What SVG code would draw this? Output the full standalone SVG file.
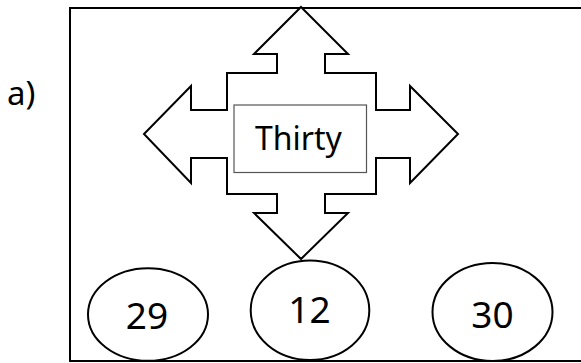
<svg xmlns="http://www.w3.org/2000/svg" width="581" height="363" viewBox="0 0 581 363">
<style>
.ln{fill:none;stroke:#000;stroke-width:2}
.sh{fill:#fff;stroke:#000;stroke-width:2;stroke-linejoin:miter}
.t{font-family:"Noto Sans","Open Sans","DejaVu Sans",sans-serif;fill:#000}
</style>
<rect width="581" height="363" fill="#fff"/>
<text class="t" x="7" y="105" font-size="33">a)</text>
<rect class="ln" x="70" y="8" width="530" height="353"/>
<g id="arrow">
<polygon class="sh" points="301,7 348,54 325,54 325,73 376,73 376,110 410,110 410,86 458,134 410,183 410,158 376,158 376,194 325,194 325,213 348,213 301,259 254,213 277,213 277,194 227,194 227,158 191,158 191,183 144,134 191,86 191,110 227,110 227,73 277,73 277,54 254,54"/>
</g>
<g id="thirty">
<rect x="234" y="105" width="132.5" height="67.5" fill="#fff" stroke="#555" stroke-width="1.2"/>
<text class="t" x="298.5" y="150" font-size="32" text-anchor="middle">Thirty</text>
</g>
<g id="n29">
<ellipse class="ln" cx="148" cy="314.5" rx="60" ry="46.3"/>
<text class="t" x="147" y="329" font-size="37" text-anchor="middle">29</text>
</g>
<g id="n12">
<ellipse class="ln" cx="310" cy="310.3" rx="59.3" ry="49.7"/>
<text class="t" x="309.5" y="322.7" font-size="37" text-anchor="middle">12</text>
</g>
<g id="n30">
<ellipse class="ln" cx="492.5" cy="312" rx="60" ry="49"/>
<text class="t" x="492.5" y="328" font-size="37" text-anchor="middle">30</text>
</g>
<g id="connectors"></g>
</svg>
